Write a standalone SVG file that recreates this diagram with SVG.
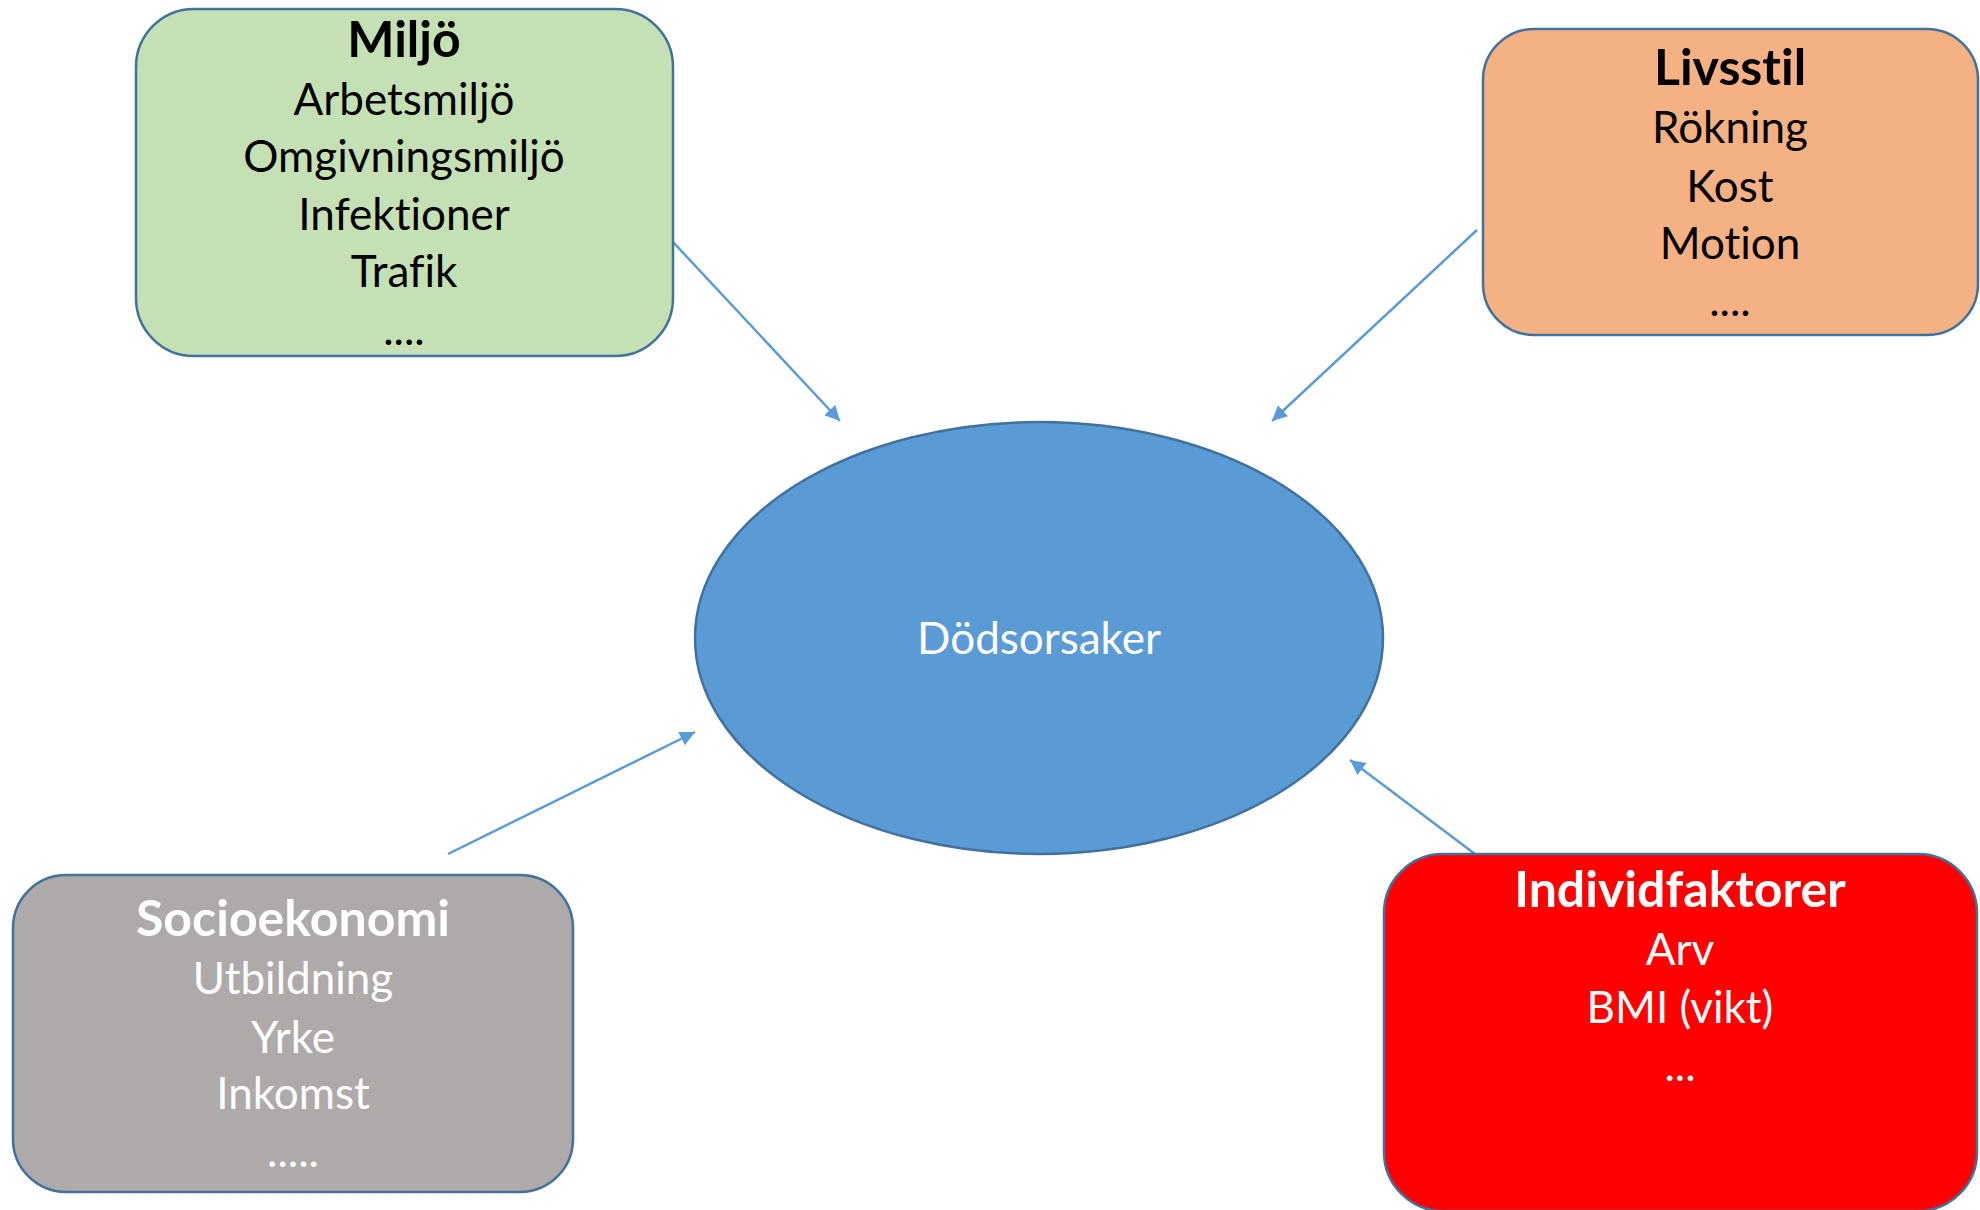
<svg xmlns="http://www.w3.org/2000/svg" width="1980" height="1210" viewBox="0 0 1980 1210">
<style>
.box{stroke:#41719C;stroke-width:2.5}
.t{font-family:Lato,"Open Sans","Liberation Sans",sans-serif;font-size:44px;text-anchor:middle;font-variant-ligatures:none;font-feature-settings:"liga" 0}
.b{font-weight:bold;font-size:50px}
.dk{fill:#000}
.wt{fill:#fff}
.conn{stroke:#5B9BD5;stroke-width:2.5;fill:none;marker-end:url(#ah)}
</style>
<defs>
<marker id="ah" viewBox="0 0 10 10" refX="10" refY="5" markerWidth="6.5" markerHeight="6" markerUnits="strokeWidth" orient="auto">
<path d="M0,0 L10,5 L0,10 z" fill="#5B9BD5"/>
</marker>
</defs>
<rect width="1980" height="1210" fill="#fff"/>
<g id="connectors">
<line class="conn" x1="673" y1="242" x2="840" y2="421"/>
<line class="conn" x1="1477" y1="230" x2="1272" y2="421"/>
<line class="conn" x1="448" y1="854" x2="695" y2="732"/>
<line class="conn" x1="1475" y1="854" x2="1350" y2="760"/>
</g>
<g id="dodsorsaker">
<ellipse class="box" cx="1039" cy="638" rx="344" ry="216" fill="#5B9BD5"/>
<text class="t wt" x="1039" y="654">Dödsorsaker</text>
</g>
<g id="miljo">
<rect class="box" x="136" y="9" width="537" height="347" rx="58" ry="58" fill="#C5E0B4"/>
<text class="t dk b" x="404" y="57">Miljö</text>
<text class="t dk" x="404" y="115">Arbetsmiljö</text>
<text class="t dk" x="404" y="172">Omgivningsmiljö</text>
<text class="t dk" x="404" y="230">Infektioner</text>
<text class="t dk" x="404" y="287">Trafik</text>
<text class="t dk" x="404" y="345">....</text>
</g>
<g id="livsstil">
<rect class="box" x="1483" y="29" width="495" height="306" rx="51" ry="51" fill="#F4B183"/>
<text class="t dk b" x="1730" y="85">Livsstil</text>
<text class="t dk" x="1730" y="143">Rökning</text>
<text class="t dk" x="1730" y="202">Kost</text>
<text class="t dk" x="1730" y="259">Motion</text>
<text class="t dk" x="1730" y="316">....</text>
</g>
<g id="socioekonomi">
<rect class="box" x="13" y="875" width="560" height="317" rx="53" ry="53" fill="#AEAAAA"/>
<text class="t wt b" x="293" y="936">Socioekonomi</text>
<text class="t wt" x="293" y="994">Utbildning</text>
<text class="t wt" x="293" y="1053">Yrke</text>
<text class="t wt" x="293" y="1109">Inkomst</text>
<text class="t wt" x="293" y="1167">.....</text>
</g>
<g id="individfaktorer">
<rect class="box" x="1384" y="854" width="593" height="357" rx="59" ry="59" fill="#FF0000"/>
<text class="t wt b" x="1680" y="907">Individfaktorer</text>
<text class="t wt" x="1680" y="965">Arv</text>
<text class="t wt" x="1680" y="1023">BMI (vikt)</text>
<text class="t wt" x="1680" y="1081">...</text>
</g>
</svg>
